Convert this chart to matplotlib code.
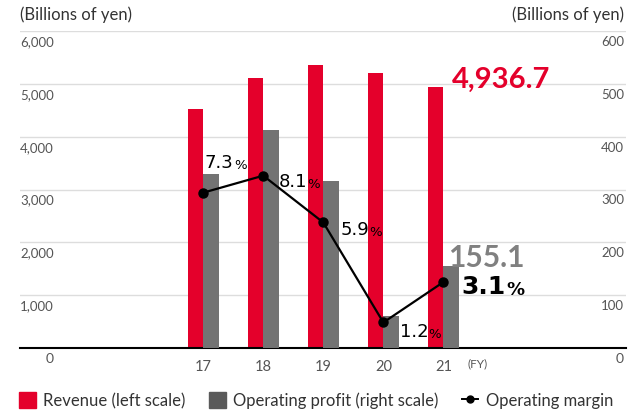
import matplotlib.pyplot as plt
from matplotlib.patches import Patch
from matplotlib.lines import Line2D
import matplotlib.transforms as mtransforms

# Data (fiscal years)
years = ['17', '18', '19', '20', '21']
revenue = [4527, 5114, 5360, 5208, 4936.7]        # billions of yen, left scale
op_profit = [330, 413, 316, 61, 155.1]           # billions of yen, right scale
op_margin = [7.3, 8.1, 5.9, 1.2, 3.1]            # %
left_ticks = [1000, 2000, 3000, 4000, 5000, 6000]
right_ticks = [100, 200, 300, 400, 500, 600]

RED = '#E4002B'
GRAY = '#737373'
TXT = '#555555'

plt.rcParams['font.family'] = ['Lato', 'DejaVu Sans']

fig = plt.figure(figsize=(6.3, 4.14), dpi=100)
ax = fig.add_axes([20 / 630, 1 - 349 / 414, 606 / 630, 317 / 414])
ax2 = ax.twinx()
ax3 = ax.twinx()

x = list(range(len(years)))
w = 0.26

ax.bar([i - w / 2 for i in x], revenue, width=w, color=RED, zorder=3)
ax2.bar([i + w / 2 for i in x], op_profit, width=w, color=GRAY, zorder=3)
ax3.plot(x, op_margin, color='black', lw=1.6, marker='o', ms=6.5, zorder=4)

ax.set_ylim(0, 6000)
ax2.set_ylim(0, 600)
ax3.set_ylim(0, 14.9)
for a in (ax, ax2, ax3):
    a.set_xlim(-3.05, 7.04)
    for s in a.spines.values():
        s.set_visible(False)
ax.spines['bottom'].set_visible(True)
ax.spines['bottom'].set_color('black')
ax.spines['bottom'].set_linewidth(1.5)
ax.spines['bottom'].set_zorder(5)

ax.set_yticks(left_ticks)
ax.yaxis.grid(True, color='#dddddd', lw=1)
ax.set_axisbelow(True)
ax.tick_params(axis='y', length=0, labelleft=False)
ax2.set_yticks([])
ax3.set_yticks([])

ax.set_xticks(x)
ax.set_xticklabels(years)
ax.tick_params(axis='x', length=0, pad=8, labelsize=10.5, labelcolor=TXT)

# y-axis labels sit just under their gridlines
off = mtransforms.offset_copy(ax.transData, fig=fig, y=-4, units='dots')
for v in left_ticks:
    ax.text(-3.05, v, f'{v:,}', transform=off, ha='left', va='top',
            fontsize=9.5, color=TXT)
off2 = mtransforms.offset_copy(ax2.transData, fig=fig, x=-2, y=-4, units='dots')
for v in right_ticks:
    ax2.text(7.04, v, f'{v}', transform=off2, ha='right', va='top',
             fontsize=9.5, color=TXT)
ax.text(-2.55, 0, '0', transform=off, ha='center', va='top', fontsize=10,
        color=TXT)
ax2.text(7.04, 0, '0', transform=off2, ha='right', va='top', fontsize=10,
         color=TXT)
ax.text(4.57, 0, '(FY)', transform=mtransforms.offset_copy(
    ax.transData, fig=fig, y=-9, units='dots'), ha='center', va='top',
    fontsize=8.5, color=TXT)

fig.text(20 / 630, 1 - 15 / 414, '(Billions of yen)', ha='left', va='center',
         fontsize=12, color='#333333')
fig.text(624 / 630, 1 - 15 / 414, '(Billions of yen)', ha='right',
         va='center', fontsize=12, color='#333333')

# margin labels: number followed by a smaller percent sign
m_off = [(0.03, 1.45), (0.25, -0.25), (0.28, -0.3), (0.27, -0.4), (0.3, -0.2)]
for i, (m, (dx, dy)) in enumerate(zip(op_margin, m_off)):
    big = i == len(op_margin) - 1
    t = ax3.text(i + dx, m + dy, f'{m}', ha='left', va='center',
                 fontsize=18 if big else 13,
                 fontweight='bold' if big else 'normal',
                 family=['DejaVu Sans'], zorder=6)
    ax3.annotate('%', xy=(1, 0), xycoords=t, xytext=(0.2, 0.5 if big else 0),
                 textcoords='offset points', ha='left', va='bottom',
                 fontsize=13 if big else 9.5,
                 fontweight='bold' if big else 'normal',
                 family=['DejaVu Sans'], zorder=6)

# highlighted latest values
ax.text(4.14, revenue[-1] + 150, f'{revenue[-1]:,}', ha='left', va='center',
        fontsize=21, fontweight='bold', color=RED)
ax2.text(4.08, op_profit[-1] + 18, f'{op_profit[-1]}', ha='left',
         va='center', fontsize=21.5, fontweight='bold', color='#808080')

handles = [Patch(color=RED), Patch(color='#5a5a5a'),
           Line2D([], [], color='black', marker='o', ms=5, lw=1.4)]
labels = ['Revenue (left scale)', 'Operating profit (right scale)',
          'Operating margin']
fig.legend(handles, labels, loc='center left',
           bbox_to_anchor=(4 / 630, 1 - 401 / 414), ncol=3, frameon=False,
           fontsize=12, handlelength=1.0, handleheight=1.1,
           handletextpad=0.45, columnspacing=1.4, labelcolor='#333333')

fig.savefig('out.png', dpi=100)
